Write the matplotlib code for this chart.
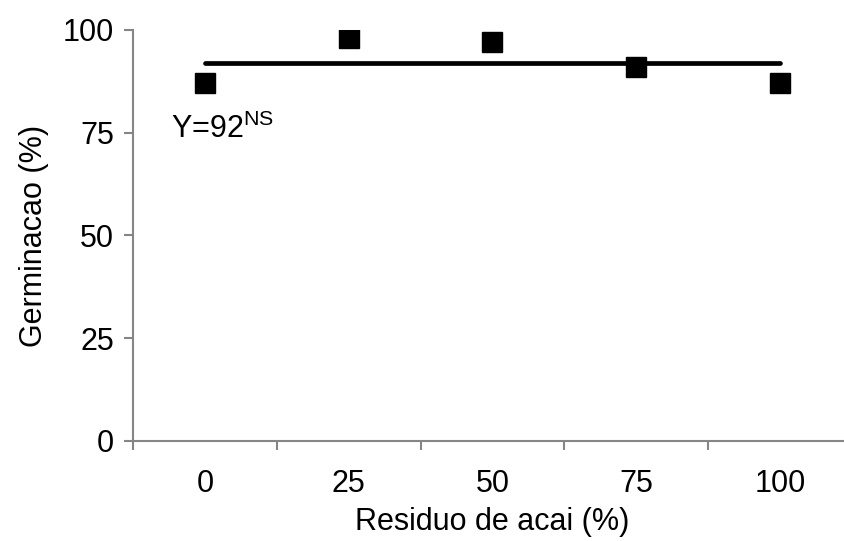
import matplotlib.pyplot as plt

plt.rcParams['font.family'] = ['Liberation Sans', 'DejaVu Sans']
plt.rcParams['mathtext.fontset'] = 'custom'
plt.rcParams['mathtext.rm'] = 'Liberation Sans'

## Data
residuo = [0, 25, 50, 75, 100]
germinacao = [87, 98, 97, 91, 87]
media = 92
labels = ['0', '25', '50', '75', '100']

axis_gray = '#868686'
fs = 22

fig = plt.figure(figsize=(8.44, 5.41), dpi=100)
ax = fig.add_axes([133/844, 100/541, 719/844, 411/541])

ax.plot([residuo[0], residuo[-1]], [media, media], color='black', lw=3.4,
        solid_capstyle='round', zorder=2)
ax.plot(residuo, germinacao, 's', color='black', markersize=14, zorder=3)
ax.text(-5.9, 73.7, r'Y=92$^{\mathrm{NS}}$', fontsize=fs, va='baseline', ha='left')

ax.set_xlim(-12.5, 112.5)
ax.set_ylim(0, 100)
ax.set_yticks([0, 25, 50, 75, 100])
ax.set_xticks(residuo)
ax.set_xticklabels(labels)
ax.set_xticks([-12.5, 12.5, 37.5, 62.5, 87.5, 112.5], minor=True)

for s in ['top', 'right']:
    ax.spines[s].set_visible(False)
for s in ['left', 'bottom']:
    ax.spines[s].set_color(axis_gray)
    ax.spines[s].set_linewidth(1.5)

ax.tick_params(axis='x', which='major', length=0, pad=20, labelsize=fs)
ax.tick_params(axis='x', which='minor', length=6.5, width=1.5, color=axis_gray, direction='out')
ax.tick_params(axis='y', length=6.5, width=1.5, color=axis_gray, pad=7, labelsize=fs)

ax.set_xlabel('Residuo de acai (%)', fontsize=fs, labelpad=6)
ax.set_ylabel('Germinacao (%)', fontsize=fs, labelpad=10)

plt.savefig('out.png', dpi=100)
